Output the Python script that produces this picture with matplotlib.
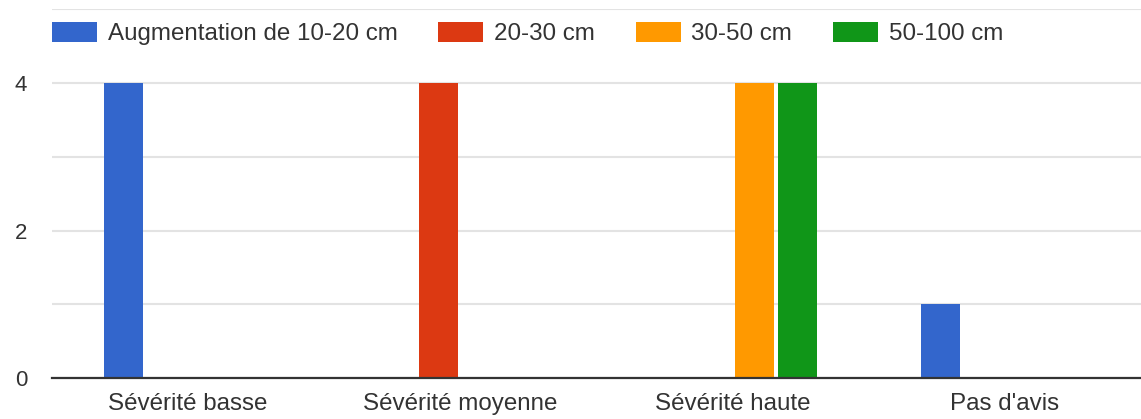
import matplotlib
matplotlib.use('Agg')
import matplotlib.pyplot as plt
import numpy as np

plt.rcParams['font.family'] = ['Liberation Sans', 'DejaVu Sans']

TEXT = '#333333'
GRID = '#e3e3e3'
AXIS = '#333333'

categories = ['Sévérité basse', 'Sévérité moyenne', 'Sévérité haute', "Pas d'avis"]
series_names = ['Augmentation de 10-20 cm', '20-30 cm', '30-50 cm', '50-100 cm']
colors = ['#3366cc', '#dc3912', '#ff9900', '#109618']

s_10_20 = [4, 0, 0, 1]
s_20_30 = [0, 4, 0, 0]
s_30_50 = [0, 0, 4, 0]
s_50_100 = [0, 0, 4, 0]
series = [s_10_20, s_20_30, s_30_50, s_50_100]

W, H = 1141, 419
fig = plt.figure(figsize=(W / 100, H / 100), dpi=100)
fig.patch.set_facecolor('white')
# axes box in pixel coords: left 52, right 1141, bottom 378, top ~9
ax = fig.add_axes([52 / W, (H - 378) / H, (W - 52) / W, (378 - 9.5) / H])

x = np.arange(len(categories))
w = 39 / 272
step = 43 / 272
offsets = (np.arange(4) - 1.5) * step

for vals, off, c, name in zip(series, offsets, colors, series_names):
    ax.bar(x + off, vals, w, color=c, label=name, edgecolor='none', zorder=3)

ax.set_xlim(-0.5, 3.5)
ax.set_ylim(0, 5)
ax.set_yticks([0, 2, 4])
ax.set_yticks([1, 3, 5], minor=True)
ax.set_xticks(x)
ax.set_xticklabels(categories, fontsize=17.4, color=TEXT)
ax.tick_params(axis='x', length=0, pad=11)
ax.tick_params(axis='y', which='both', length=0, pad=18, labelsize=16, labelcolor=TEXT)
ax.yaxis.grid(True, which='both', color=GRID, linewidth=1.5, zorder=0)
ax.set_axisbelow(True)
for s in ['top', 'right', 'left']:
    ax.spines[s].set_visible(False)
ax.spines['bottom'].set_color(AXIS)
ax.spines['bottom'].set_linewidth(1.6)
ax.spines['bottom'].set_zorder(4)

leg = ax.legend(loc='center left', bbox_to_anchor=(52 / W, (H - 33.5) / H),
                bbox_transform=fig.transFigure, ncol=4, frameon=False,
                fontsize=17.4, handlelength=1.86, handleheight=0.87,
                handletextpad=0.45, columnspacing=1.68, borderpad=0, borderaxespad=0)
for t in leg.get_texts():
    t.set_color(TEXT)

fig.savefig('out.png', dpi=100, facecolor='white')
